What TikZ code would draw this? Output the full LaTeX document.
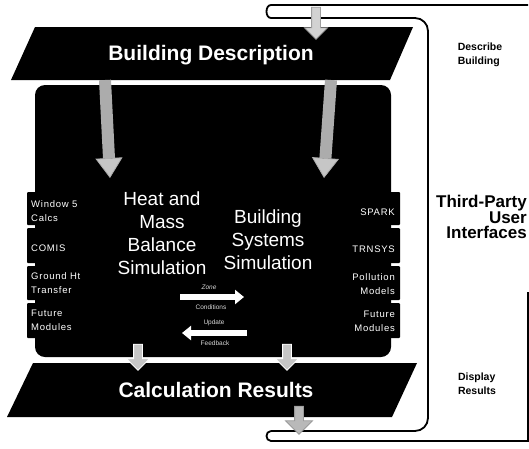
\documentclass[tikz,border=0pt]{standalone}
\usepackage{fontspec}
\setmainfont{Liberation Sans}
\newfontfamily\spacedfont[LetterSpace=8]{Liberation Sans}
\usetikzlibrary{arrows.meta,shapes.arrows}
\begin{document}
\begin{tikzpicture}[x=1pt,y=-1pt,
  blackshape/.style={fill=black},
  tabbox/.style={fill=black, rounded corners=1pt},
  bracketline/.style={draw=black, line width=1.8pt},
  title/.style={text=white, font=\fontsize{21}{25}\selectfont\bfseries, inner sep=0pt},
  simtext/.style={text=white, font=\fontsize{19}{23}\selectfont, align=center, inner sep=0pt},
  modl/.style={text=white, font=\spacedfont\fontsize{9.5}{14}\selectfont, align=left, anchor=west, inner sep=0pt},
  modr/.style={text=white, font=\spacedfont\fontsize{9.5}{14}\selectfont, align=right, anchor=east, inner sep=0pt},
  flowlbl/.style={text=gray!30, font=\fontsize{6.5}{7}\selectfont, inner sep=0pt},
  sidesmall/.style={font=\fontsize{10.5}{14}\selectfont\bfseries, align=left, inner sep=0pt},
  sidebig/.style={font=\fontsize{17}{15.5}\selectfont\bfseries, align=right, anchor=east, inner sep=0pt},
  grayarrow/.style={draw=gray!65, line width=12pt, -{Triangle[width=27pt,length=20pt,fill=gray!45,color=gray!65,line width=0.8pt]}},
  whitearrow/.style={draw=white, line width=6.5pt, -{Triangle[width=14pt,length=9pt]}},
  hollowarrow/.style={single arrow, draw=#1, fill=gray!45, line width=0.8pt, inner sep=4pt,
     single arrow head extend=7pt, rotate=-90},
]
\useasboundingbox (0,0) rectangle (529,448);

% bracket of the third-party user interfaces
\draw[bracketline] (528,292) -- (528,441) -- (271,441) .. controls (265,441) and (265,431) .. (271,431);
\draw[bracketline, rounded corners=13pt] (271,431) -- (428,431) -- (428,18) -- (271,18);
\draw[bracketline] (271,18) .. controls (265,18) and (265,5) .. (271,5) -- (528,5);

% building description band
\fill[blackshape] (35,27) -- (413,27) -- (390,80) -- (11,80) -- cycle;
\node[title] (bd) at (211,55) {Building Description};

% simulation box with module tabs
\fill[blackshape, rounded corners=10pt] (35,85) rectangle (391,357);
\foreach \ya/\yb [count=\i] in {192/225, 228/263, 266/300, 303/338} {
  \fill[tabbox] (27,\ya) rectangle (37,\yb);
  \fill[tabbox] (389,\ya) rectangle (400,\yb);
}

% calculation results band
\fill[blackshape] (33,363) -- (417,363) -- (392,417) -- (7,417) -- cycle;
\node[title] (cr) at (216,390) {Calculation Results};

% simulation texts
\node[simtext] (hm) at (162,233) {Heat and\\Mass\\Balance\\Simulation};
\node[simtext] (bs) at (268,240) {Building\\Systems\\Simulation};

% module labels
\node[modl] (win) at (31,211) {Window 5\\Calcs};
\node[modl] (comis) at (31,248) {COMIS};
\node[modl] (ground) at (31,283) {Ground Ht\\Transfer};
\node[modl] (futl) at (31,320) {Future\\Modules};
\node[modr] (spark) at (395,212) {SPARK};
\node[modr] (trnsys) at (395,249) {TRNSYS};
\node[modr] (poll) at (395,284) {Pollution\\Models};
\node[modr] (futr) at (395,321) {Future\\Modules};

% gray arrows from the building description
\coordinate (hl-tail) at (105,80);
\coordinate (hl-tip) at (110,178);
\coordinate (hr-tail) at (331,80);
\coordinate (hr-tip) at (324,178);
\draw[grayarrow] (hl-tail) -- (hl-tip);
\draw[grayarrow] (hr-tail) -- (hr-tip);

% exchange arrows
\coordinate (zc-tail) at (180,297);
\coordinate (zc-tip) at (244,297);
\coordinate (uf-tail) at (247,333);
\coordinate (uf-tip) at (182,333);
\draw[whitearrow] (zc-tail) -- (zc-tip);
\draw[whitearrow] (uf-tail) -- (uf-tip);
\node[flowlbl, font=\fontsize{6.5}{7}\selectfont\itshape] (zone) at (209,287) {Zone};
\node[flowlbl] (cond) at (211,307) {Conditions};
\node[flowlbl] (upd) at (214,323) {Update};
\node[flowlbl] (feed) at (215,343) {Feedback};

% hollow arrows
\node[hollowarrow=gray!75, fill=gray!35, minimum height=32pt] (ta) at (316,21) {};
\node[hollowarrow=white, fill=gray!45, minimum height=26pt] (ba1) at (138,355) {};
\node[hollowarrow=white, fill=gray!45, minimum height=26pt] (ba2) at (287,355) {};
\node[hollowarrow=gray!80, fill=gray!55, minimum height=28pt, single arrow head extend=9pt] (ba3) at (299,418) {};

% side labels
\node[sidesmall] (descr) at (480,55) {Describe\\Building};
\node[sidebig] (tpui) at (527,217) {Third-Party\\User\\Interfaces};
\node[sidesmall] (disp) at (477,384) {Display\\Results};
\end{tikzpicture}
\end{document}
